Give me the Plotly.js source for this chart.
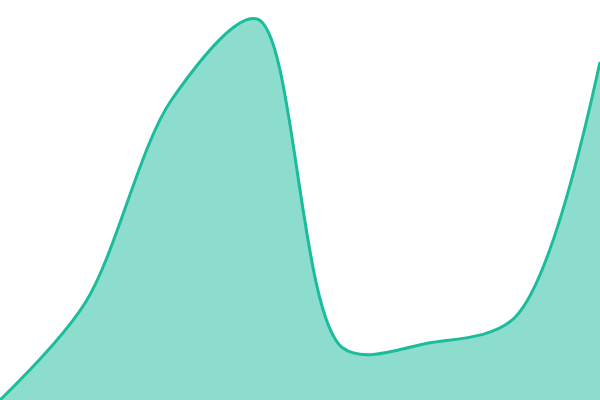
<!DOCTYPE html>
<html>
<head>
<meta charset="utf-8">
<script src="https://cdn.plot.ly/plotly-3.0.1.min.js"></script>
<style>
  html, body { margin: 0; padding: 0; background: #fff; }
  #chart { width: 600px; height: 400px; }
</style>
</head>
<body>
<div id="chart"></div>
<script>
// points sit evenly across the width
var steps = [0, 1, 2, 3, 4, 5, 6, 7];
var values = [0, 98, 300, 381, 52, 57, 82, 338];

var trace = {
  x: steps,
  y: values,
  type: 'scatter',
  mode: 'lines',
  fill: 'tozeroy',
  fillcolor: 'rgba(26,188,156,0.5)',
  line: { color: '#1abc9c', width: 3, shape: 'spline', smoothing: 0.9 },
  hoverinfo: 'none'
};

var layout = {
  width: 600,
  height: 400,
  margin: { l: 0, r: 0, t: 0, b: 0 },
  paper_bgcolor: '#fff',
  plot_bgcolor: '#fff',
  showlegend: false,
  xaxis: { range: [0, 7], visible: false, fixedrange: true },
  yaxis: { range: [0, 400], visible: false, fixedrange: true }
};

Plotly.newPlot('chart', [trace], layout, { displayModeBar: false, staticPlot: true });
</script>
</body>
</html>
